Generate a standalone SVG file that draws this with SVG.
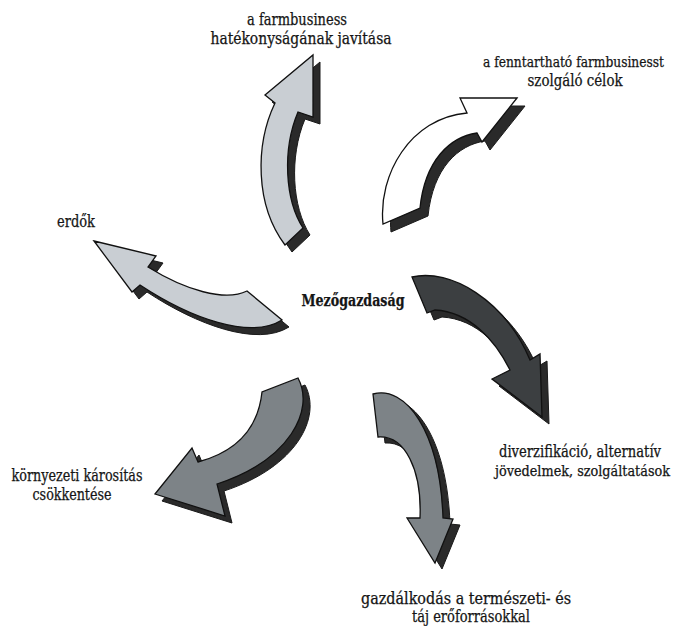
<svg xmlns="http://www.w3.org/2000/svg" width="679" height="626" viewBox="0 0 679 626">
<style>
text{font-family:'DejaVu Serif Condensed','DejaVu Serif',serif;font-stretch:condensed;font-size:16px;fill:#151515;stroke:#151515;stroke-width:0.25;text-anchor:middle}
.ctr{font-weight:bold}
.end{text-anchor:end;font-size:14.5px}
.sh{fill:#2a2a2a;stroke:#1a1a1a;stroke-width:1}
.ar{stroke:#111;stroke-width:1.3;stroke-linejoin:miter}
.light{fill:#c9ced3}
.white{fill:#ffffff}
.dark{fill:#3c3f41}
.mid{fill:#7d8387}
</style>
<defs>
<path id="a1" d="M313,55 L313,117 L298,112 C282,150 285,200 303,228 L285,245 C255,205 255,145 275,103 L265,95 Z"/>
<path id="a2" d="M517,98 L482,142 L477,133 C450,137 425,160 420,208 L383,224 C378,175 410,118 467,113 L460,98 Z"/>
<path id="a3" d="M94,241 L156,256 L148,267 C185,290 225,302 247,291 L282,320 C250,340 190,318 140,285 L132,292 Z"/>
<path id="a4" d="M412,277 C450,268 505,300 530,360 L540,354 L542,417 L492,379 L510,370 C495,340 470,312 435,310 L427,313 Z"/>
<path id="a5" d="M298,378 C315,410 290,460 217,484 L225,516 L155,494 L192,448 L198,462 C235,452 258,430 262,392 Z"/>
<path id="a6" d="M373,394 C405,385 440,430 443,518 L453,519 L435,563 L407,518 L420,518 C422,470 405,435 378,437 Z"/>
</defs>
<g id="connectors">
<g id="arrow-farm"><use href="#a1" class="sh" transform="translate(7,7)"/><use href="#a1" class="ar light"/></g>
<g id="arrow-fenntarthato"><use href="#a2" class="sh" transform="translate(8,8)"/><use href="#a2" class="ar white"/></g>
<g id="arrow-erdok"><use href="#a3" class="sh" transform="translate(7,7)"/><use href="#a3" class="ar light"/></g>
<g id="arrow-diverz"><use href="#a4" class="sh" transform="translate(7,7)"/><use href="#a4" class="ar dark"/></g>
<g id="arrow-kornyezeti"><use href="#a5" class="sh" transform="translate(7,7)"/><use href="#a5" class="ar mid"/></g>
<g id="arrow-gazd"><use href="#a6" class="sh" transform="translate(7,6)"/><use href="#a6" class="ar mid"/></g>
</g>
<g id="center"><text class="ctr" x="353" y="306" textLength="103" lengthAdjust="spacingAndGlyphs">Mezőgazdaság</text></g>
<g id="farmbusiness"><text x="297" y="25" textLength="100" lengthAdjust="spacingAndGlyphs">a farmbusiness</text><text x="301" y="44" textLength="181" lengthAdjust="spacingAndGlyphs">hatékonyságának javítása</text></g>
<g id="fenntarthato"><text class="end" x="664" y="67" textLength="181" lengthAdjust="spacingAndGlyphs">a fenntartható farmbusinesst</text><text x="575" y="86" textLength="95" lengthAdjust="spacingAndGlyphs">szolgáló célok</text></g>
<g id="erdok"><text x="76" y="227" textLength="38" lengthAdjust="spacingAndGlyphs">erdők</text></g>
<g id="diverzifikacio"><text x="580" y="457" textLength="162" lengthAdjust="spacingAndGlyphs">diverzifikáció, alternatív</text><text class="end" x="670" y="476" textLength="175" lengthAdjust="spacingAndGlyphs">jövedelmek, szolgáltatások</text></g>
<g id="kornyezeti"><text x="77" y="481" textLength="131" lengthAdjust="spacingAndGlyphs">környezeti károsítás</text><text x="72" y="500" textLength="79" lengthAdjust="spacingAndGlyphs">csökkentése</text></g>
<g id="gazdalkodas"><text x="466" y="604" textLength="210" lengthAdjust="spacingAndGlyphs">gazdálkodás a természeti- és</text><text x="471" y="622" textLength="118" lengthAdjust="spacingAndGlyphs">táj erőforrásokkal</text></g>
</svg>
